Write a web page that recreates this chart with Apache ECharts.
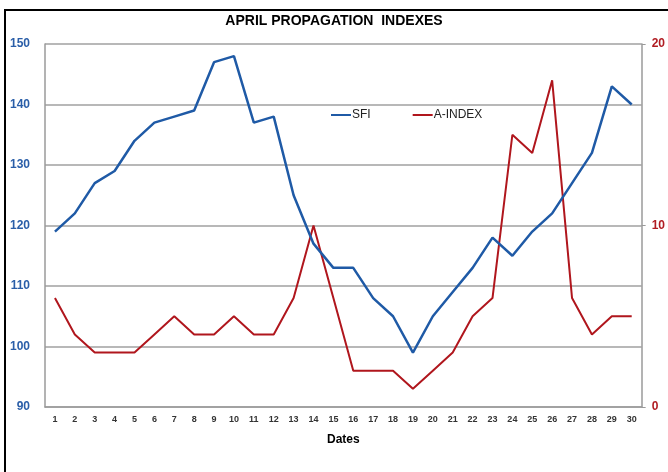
<!DOCTYPE html>
<html>
<head>
<meta charset="utf-8">
<script src="https://cdn.jsdelivr.net/npm/echarts@6/dist/echarts.min.js"></script>
<style>
  html, body { margin: 0; padding: 0; background: #fff; }
  #chart { width: 668px; height: 472px; }
</style>
</head>
<body>
<div id="chart"></div>
<script>
  // days of April
  var dates = ['1','2','3','4','5','6','7','8','9','10','11','12','13','14','15',
               '16','17','18','19','20','21','22','23','24','25','26','27','28','29','30'];
  var sfi = [119,122,127,129,134,137,138,139,147,148,137,138,125,117,113,
             113,108,105,99,105,109,113,118,115,119,122,127,132,143,140];
  var aIndex = [6,4,3,3,3,4,5,4,4,5,4,4,6,10,6,
                2,2,2,1,2,3,5,6,15,14,18,6,4,5,5];

  var font = '"Liberation Sans Narrow", "Liberation Sans", sans-serif';
  var chart = echarts.init(document.getElementById('chart'));

  var option = {
    animation: false,
    title: {
      text: 'APRIL PROPAGATION  INDEXES',
      left: 'center',
      top: 9,
      textStyle: { fontFamily: font, fontSize: 14, fontWeight: 'bold', color: '#000' }
    },
    legend: {
      left: 326,
      top: 104,
      itemGap: 42,
      itemWidth: 20,
      itemHeight: 2,
      icon: 'rect',
      textStyle: { fontFamily: font, fontSize: 12, color: '#222', padding: [0, 0, 0, -4] },
      data: ['SFI', 'A-INDEX']
    },
    grid: { left: 45, right: 26, top: 44, bottom: 65 },
    xAxis: {
      type: 'category',
      data: dates,
      boundaryGap: true,
      name: 'Dates',
      nameLocation: 'middle',
      nameGap: 27,
      nameTextStyle: { fontFamily: font, fontSize: 12, fontWeight: 'bold', color: '#000' },
      axisLine: { lineStyle: { color: '#9a9a9a', width: 1.5 } },
      axisTick: { show: false },
      axisLabel: { fontFamily: font, fontSize: 9, fontWeight: 'bold', color: '#333', margin: 8, interval: 0 }
    },
    yAxis: [{
      type: 'value',
      min: 90,
      max: 150,
      interval: 10,
      axisLine: { show: true, lineStyle: { color: '#9a9a9a', width: 1.5 } },
      axisTick: { show: false },
      axisLabel: { fontFamily: font, fontSize: 12, fontWeight: 'bold', color: '#2a5ea8', margin: 15 },
      splitLine: { lineStyle: { color: '#a0a0a0', width: 1.5 } }
    }, {
      type: 'value',
      min: 0,
      max: 20,
      interval: 10,
      position: 'right',
      axisLine: { show: true, lineStyle: { color: '#9a9a9a', width: 1.5 } },
      axisTick: { show: true, length: 4, lineStyle: { color: '#9a9a9a' } },
      axisLabel: { fontFamily: font, fontSize: 12, fontWeight: 'bold', color: '#b01c22', margin: 10 },
      splitLine: { show: false }
    }],
    series: [{
      name: 'SFI',
      type: 'line',
      yAxisIndex: 0,
      data: sfi,
      symbol: 'none',
      lineStyle: { color: '#1f5aa6', width: 2.5 },
      itemStyle: { color: '#1f5aa6' },
      z: 3
    }, {
      name: 'A-INDEX',
      type: 'line',
      yAxisIndex: 1,
      data: aIndex,
      symbol: 'none',
      lineStyle: { color: '#b0161d', width: 2 },
      itemStyle: { color: '#b0161d' },
      z: 2
    }],
    graphic: [{
      type: 'rect',
      shape: { x: 5, y: 10, width: 700, height: 500 },
      style: { fill: 'none', stroke: '#000', lineWidth: 2 },
      silent: true
    }]
  };

  chart.setOption(option);
</script>
</body>
</html>
